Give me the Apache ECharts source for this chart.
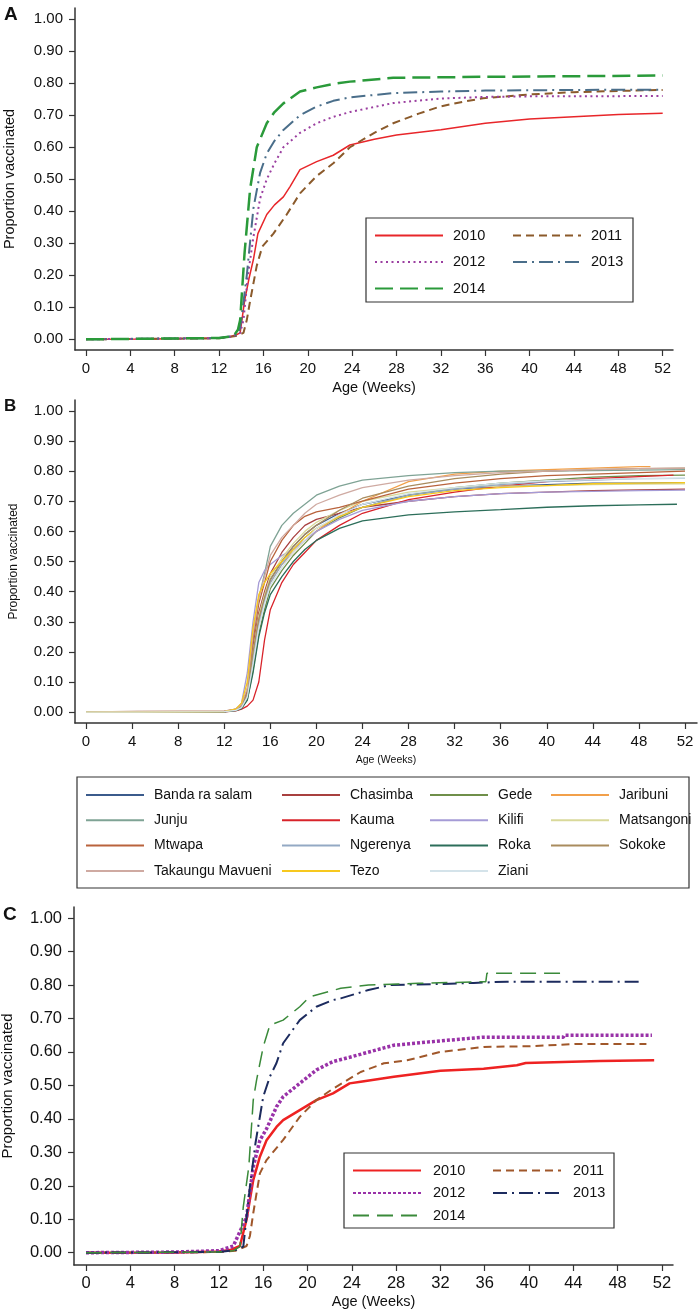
<!DOCTYPE html>
<html>
<head>
<meta charset="utf-8">
<script src="https://cdn.jsdelivr.net/npm/echarts@6/dist/echarts.min.js"></script>
<style>
html,body{margin:0;padding:0;background:#fff;}
#chart{width:700px;height:1313px;}
</style>
</head>
<body>
<div id="chart"></div>
<script>
// ---------------- DATA ----------------
const X_TICKS = [0, 4, 8, 12, 16, 20, 24, 28, 32, 36, 40, 44, 48, 52];
const Y_TICKS = [0, 0.1, 0.2, 0.3, 0.4, 0.5, 0.6, 0.7, 0.8, 0.9, 1.0];
const YEARS = ['2010', '2011', '2012', '2013', '2014'];

// Panel A: proportion vaccinated by age (weeks), per birth-year cohort
const A_2010 = [[0,0],[6,0.001],[12,0.004],[13,0.008],[13.6,0.015],[13.9,0.02],[14.3,0.12],[14.7,0.19],[15.1,0.25],[15.5,0.33],[16.3,0.39],[17,0.42],[17.8,0.445],[18.4,0.477],[19.3,0.53],[20.8,0.555],[22.3,0.575],[23.8,0.607],[26,0.625],[28,0.638],[32,0.655],[36,0.675],[40,0.688],[44,0.695],[48,0.702],[52,0.706]];
const A_2011 = [[0,0],[12,0.003],[13.5,0.01],[14.2,0.02],[14.5,0.06],[14.8,0.12],[15.4,0.23],[15.9,0.29],[16.9,0.33],[18.1,0.39],[19.3,0.456],[20.8,0.51],[22.3,0.55],[23.8,0.60],[26,0.645],[27.7,0.675],[30,0.705],[31.9,0.727],[34,0.742],[35.8,0.753],[40,0.765],[44,0.772],[48,0.776],[52,0.779]];
const A_2012 = [[0,0],[12,0.004],[13.3,0.01],[13.9,0.02],[14.2,0.06],[14.6,0.2],[15.1,0.32],[15.7,0.44],[16.3,0.50],[17,0.55],[17.8,0.60],[19.3,0.645],[20.8,0.675],[22.3,0.695],[23.8,0.71],[27.7,0.738],[31.9,0.752],[35.8,0.757],[40,0.759],[52,0.76]];
const A_2013 = [[0,0],[12,0.004],[13.3,0.01],[13.8,0.02],[14.0,0.06],[14.5,0.2],[15.1,0.41],[15.7,0.52],[16.3,0.58],[17,0.62],[17.8,0.654],[19.3,0.70],[20.8,0.727],[22.3,0.745],[23.8,0.756],[27.7,0.769],[32,0.774],[36,0.777],[44,0.779],[52,0.78]];
const A_2014 = [[0,0],[12,0.004],[13.3,0.01],[13.7,0.03],[13.9,0.06],[14.3,0.27],[14.8,0.47],[15.4,0.60],[16.3,0.675],[17,0.71],[17.8,0.737],[19.3,0.774],[20.8,0.787],[22.3,0.798],[23.8,0.805],[27.7,0.817],[36,0.82],[44,0.822],[52,0.824]];

// Panel B: by location
const B_LOCATIONS = ['Banda ra salam','Chasimba','Gede','Jaribuni','Junju','Kauma','Kilifi','Matsangoni','Mtwapa','Ngerenya','Roka','Sokoke','Takaungu Mavueni','Tezo','Ziani'];
const B_WEEKS = [0,4.5,12,13,13.5,14,14.5,15,15.5,16,17,18,19,20,22,24,28,32,36,40,44,48,52];
const B_LAST_WEEK = [52,52,52,49,52,51,52,52,52,52,51.3,52,52,52,52];
const B_BANDA      = [0,0,0.002,0.008,0.02,0.06,0.2,0.32,0.39,0.44,0.5,0.55,0.59,0.62,0.66,0.69,0.72,0.74,0.75,0.755,0.76,0.76,0.762];
const B_CHASIMBA   = [0,0,0.002,0.008,0.02,0.07,0.22,0.33,0.40,0.46,0.53,0.58,0.62,0.64,0.66,0.68,0.70,0.715,0.725,0.73,0.735,0.738,0.74];
const B_GEDE       = [0,0,0.002,0.006,0.015,0.04,0.14,0.26,0.34,0.41,0.47,0.52,0.56,0.60,0.645,0.68,0.72,0.745,0.76,0.77,0.78,0.785,0.787];
const B_JARIBUNI   = [0,0,0.002,0.008,0.02,0.06,0.2,0.3,0.37,0.43,0.49,0.53,0.57,0.60,0.655,0.70,0.765,0.79,0.80,0.805,0.81,0.815,0.815];
const B_JUNJU      = [0,0,0.002,0.008,0.02,0.07,0.25,0.38,0.46,0.55,0.62,0.66,0.69,0.72,0.75,0.77,0.785,0.795,0.80,0.80,0.802,0.803,0.805];
const B_KAUMA      = [0,0,0.001,0.004,0.01,0.02,0.04,0.1,0.24,0.34,0.43,0.49,0.53,0.57,0.62,0.66,0.705,0.73,0.75,0.765,0.775,0.782,0.787];
const B_KILIFI     = [0,0,0.002,0.01,0.03,0.13,0.3,0.43,0.47,0.49,0.52,0.54,0.57,0.60,0.64,0.67,0.70,0.715,0.725,0.73,0.733,0.735,0.737];
const B_MATSANGONI = [0,0,0.002,0.008,0.02,0.06,0.2,0.32,0.39,0.45,0.51,0.56,0.60,0.63,0.67,0.70,0.73,0.745,0.75,0.752,0.755,0.757,0.758];
const B_MTWAPA     = [0,0.002,0.003,0.01,0.025,0.07,0.24,0.36,0.43,0.5,0.57,0.62,0.65,0.665,0.68,0.70,0.74,0.76,0.775,0.785,0.79,0.795,0.80];
const B_NGERENYA   = [0,0,0.002,0.006,0.015,0.05,0.17,0.29,0.37,0.43,0.49,0.54,0.58,0.61,0.65,0.68,0.72,0.74,0.755,0.765,0.77,0.775,0.776];
const B_ROKA       = [0,0,0.001,0.005,0.012,0.04,0.13,0.25,0.33,0.39,0.45,0.50,0.54,0.57,0.61,0.635,0.655,0.665,0.672,0.68,0.685,0.688,0.69];
const B_SOKOKE     = [0,0,0.002,0.008,0.02,0.06,0.2,0.31,0.38,0.44,0.5,0.55,0.59,0.62,0.67,0.71,0.75,0.775,0.79,0.80,0.805,0.808,0.81];
const B_TAKAUNGU   = [0,0.003,0.003,0.01,0.025,0.08,0.26,0.38,0.45,0.52,0.58,0.62,0.66,0.69,0.72,0.745,0.77,0.785,0.795,0.80,0.805,0.808,0.81];
const B_TEZO       = [0,0,0.002,0.01,0.03,0.1,0.28,0.39,0.43,0.46,0.5,0.54,0.58,0.61,0.65,0.68,0.715,0.735,0.745,0.752,0.758,0.76,0.762];
const B_ZIANI      = [0,0,0.002,0.006,0.015,0.05,0.16,0.28,0.36,0.42,0.48,0.53,0.57,0.61,0.655,0.69,0.725,0.745,0.76,0.768,0.772,0.775,0.777];
const B_VALUES = [B_BANDA,B_CHASIMBA,B_GEDE,B_JARIBUNI,B_JUNJU,B_KAUMA,B_KILIFI,B_MATSANGONI,B_MTWAPA,B_NGERENYA,B_ROKA,B_SOKOKE,B_TAKAUNGU,B_TEZO,B_ZIANI];

// Panel C
const C_2010 = [[0,0],[8,0.001],[12,0.004],[13,0.008],[13.9,0.02],[14.5,0.1],[15.1,0.217],[15.7,0.287],[16.3,0.336],[17.2,0.376],[17.8,0.396],[19.3,0.426],[20.8,0.456],[22.3,0.476],[23.8,0.506],[24.8,0.511],[27.8,0.526],[32,0.544],[35.9,0.55],[38.9,0.56],[39.7,0.567],[46.4,0.573],[51.3,0.575]];
const C_2011 = [[0,0],[12,0.002],[13.5,0.006],[14.5,0.02],[14.8,0.05],[15.1,0.118],[15.7,0.237],[16.3,0.277],[17.8,0.337],[19.3,0.406],[20.8,0.456],[22.3,0.49],[23.8,0.52],[24.8,0.54],[26.9,0.566],[29,0.575],[32,0.60],[35.9,0.615],[40.1,0.617],[44.3,0.624],[50.6,0.624]];
const C_2012 = [[0,0],[8,0.002],[12,0.006],[13.3,0.02],[14.5,0.107],[15.1,0.257],[15.7,0.336],[16.3,0.37],[17.2,0.436],[17.8,0.466],[19.3,0.506],[20.8,0.546],[22.3,0.571],[23.8,0.584],[26.9,0.612],[27.8,0.62],[32,0.633],[35.9,0.644],[43.1,0.644],[43.2,0.65],[51.1,0.65]];
const C_2013 = [[0,0],[12,0.002],[13.5,0.008],[14.2,0.018],[14.8,0.197],[15.3,0.327],[16.0,0.466],[16.6,0.526],[17.2,0.567],[17.8,0.626],[19.3,0.695],[20.8,0.735],[22.3,0.755],[23,0.76],[25.5,0.785],[27.5,0.80],[32,0.803],[35,0.806],[38,0.81],[50,0.81]];
const C_2014 = [[0,0],[12,0.002],[13.3,0.006],[13.9,0.018],[14.2,0.137],[14.7,0.257],[15.1,0.456],[15.4,0.516],[16.0,0.615],[16.6,0.68],[17.8,0.695],[19.3,0.735],[20.2,0.765],[23,0.79],[25.5,0.80],[30,0.805],[36.1,0.81],[36.2,0.835],[42.8,0.835]];

// ---------------- STYLES ----------------
const FONT = "'Liberation Sans', Arial, Helvetica, sans-serif";
const A_STYLE = [
  {color:'#e8262a', width:1.5, type:'solid'},
  {color:'#8b5a2b', width:2, type:[8,5]},
  {color:'#9b3fa0', width:2, type:[2,3.5]},
  {color:'#4a6e8a', width:2, type:[14,5,2,5]},
  {color:'#2a9a3a', width:2.5, type:[18,7]}
];
const C_STYLE = [
  {color:'#ee2222', width:2.5, type:'solid'},
  {color:'#a0572a', width:2, type:[8,5]},
  {color:'#9932a8', width:3.5, type:[3,2]},
  {color:'#1c2b5e', width:2, type:[14,5,2,5]},
  {color:'#3a8a3a', width:1.5, type:[16,8]}
];
const B_COLORS = ['#3b5b8c','#a8403f','#6f8f4a','#f2a04a','#7fa395','#d8232a','#a59bd6','#d9d99a','#b9633c','#93a9c4','#2c6e5a','#a98c5e','#cfaaa2','#f7c81e','#d4e3ea'];

const A_DATA = [A_2010, A_2011, A_2012, A_2013, A_2014];
const C_DATA = [C_2010, C_2011, C_2012, C_2013, C_2014];

// ---------------- BUILD ----------------
const AXIS_COLOR = '#333';
function xAxis(gridIndex, min, max, fontSize, nameSize, nameGap, margin) {
  return {
    type:'value', gridIndex, min, max,
    name:'Age (Weeks)', nameLocation:'middle', nameGap,
    nameTextStyle:{fontSize:nameSize, color:'#111', fontFamily:FONT},
    axisLine:{show:true, onZero:false, lineStyle:{color:AXIS_COLOR, width:1.5}},
    axisTick:{show:true, length:6, customValues:X_TICKS, lineStyle:{color:AXIS_COLOR, width:1.2}},
    axisLabel:{customValues:X_TICKS, fontSize, color:'#111', fontFamily:FONT, margin},
    splitLine:{show:false}
  };
}
function yAxis(gridIndex, min, max, fontSize, nameSize, nameGap) {
  return {
    type:'value', gridIndex, min, max,
    name:'Proportion vaccinated', nameLocation:'middle', nameGap,
    nameTextStyle:{fontSize:nameSize, color:'#111', fontFamily:FONT},
    axisLine:{show:true, onZero:false, lineStyle:{color:AXIS_COLOR, width:1.5}},
    axisTick:{show:true, length:6, customValues:Y_TICKS, lineStyle:{color:AXIS_COLOR, width:1.2}},
    axisLabel:{customValues:Y_TICKS, fontSize, color:'#111', fontFamily:FONT, margin:12,
      formatter:v => Number(v).toFixed(2)},
    splitLine:{show:false}
  };
}
function lineSeries(name, data, idx, st) {
  return {
    type:'line', name, data, xAxisIndex:idx, yAxisIndex:idx,
    symbol:'none', showSymbol:false, silent:true, animation:false,
    lineStyle:{color:st.color, width:st.width, type:st.type},
    itemStyle:{color:st.color}
  };
}
function legendCol(names, left, top, gap, itemWidth, fontSize, textPad, fmt) {
  return {
    data:names, left, top, orient:'vertical', padding:0, itemGap:gap,
    itemWidth, itemHeight:14, selectedMode:false,
    itemStyle:{opacity:0},
    textStyle:{fontSize, color:'#111', fontFamily:FONT, lineHeight:14, padding:[0,0,0,textPad]},
    formatter: fmt || (n => n)
  };
}

const series = [];
YEARS.forEach((y,i) => series.push(lineSeries(y, A_DATA[i], 0, A_STYLE[i])));
B_LOCATIONS.forEach((loc,i) => {
  const pts = B_WEEKS.map((w,j) => [j === B_WEEKS.length-1 ? B_LAST_WEEK[i] : w, B_VALUES[i][j]]);
  series.push(lineSeries(loc, pts, 1, {color:B_COLORS[i], width:1.3, type:'solid'}));
});
YEARS.forEach((y,i) => series.push(lineSeries('C ' + y, C_DATA[i], 2, C_STYLE[i])));

const stripC = n => n.replace(/^C /, '');

const option = {
  animation:false,
  backgroundColor:'#fff',
  textStyle:{fontFamily:FONT},
  title:[
    {text:'A', left:4, top:5, padding:0, textStyle:{fontSize:19, fontWeight:'bold', color:'#111', fontFamily:FONT}},
    {text:'B', left:4, top:398, padding:0, textStyle:{fontSize:17, fontWeight:'bold', color:'#111', fontFamily:FONT}},
    {text:'C', left:3, top:905, padding:0, textStyle:{fontSize:19, fontWeight:'bold', color:'#111', fontFamily:FONT}}
  ],
  grid:[
    {left:75, right:27, top:8, height:342, outerBoundsMode:'none', containLabel:false},
    {left:75, right:3, top:400, height:323, outerBoundsMode:'none', containLabel:false},
    {left:74, right:27, top:907, height:358, outerBoundsMode:'none', containLabel:false}
  ],
  xAxis:[
    xAxis(0, -0.99, 52.93, 15, 14.5, 30, 11),
    xAxis(1, -0.955, 53.04, 15, 10.5, 32, 11),
    xAxis(2, -1.084, 53.0, 16.5, 14.5, 29, 10)
  ],
  yAxis:[
    yAxis(0, -0.0334, 1.035, 15, 14.5, 58),
    yAxis(1, -0.036, 1.036, 15, 12, 55),
    yAxis(2, -0.0367, 1.033, 16.5, 15, 59)
  ],
  legend:[
    legendCol(['2010','2012','2014'], 374, 228, 11.5, 68, 14.5, 5),
    legendCol(['2011','2013'], 512, 228, 11.5, 68, 14.5, 5),
    legendCol(['Banda ra salam','Junju','Mtwapa','Takaungu Mavueni'], 85, 788, 11.3, 58, 14, 5),
    legendCol(['Chasimba','Kauma','Ngerenya','Tezo'], 281, 788, 11.3, 58, 14, 5),
    legendCol(['Gede','Kilifi','Roka','Ziani'], 429, 788, 11.3, 58, 14, 5),
    legendCol(['Jaribuni','Matsangoni','Sokoke'], 550, 788, 11.3, 58, 14, 5),
    legendCol(['C 2010','C 2012','C 2014'], 352, 1163, 7.5, 68, 14.5, 7, stripC),
    legendCol(['C 2011','C 2013'], 492, 1163, 7.5, 68, 14.5, 7, stripC)
  ],
  graphic:[
    {type:'rect', shape:{x:366, y:218, width:267, height:84}, style:{fill:'none', stroke:'#333', lineWidth:1.2}, silent:true},
    {type:'rect', shape:{x:77, y:777, width:612, height:111}, style:{fill:'none', stroke:'#333', lineWidth:1.2}, silent:true},
    {type:'rect', shape:{x:344, y:1153, width:270, height:75}, style:{fill:'none', stroke:'#333', lineWidth:1.2}, silent:true}
  ],
  series
};

const chart = echarts.init(document.getElementById('chart'), null, {renderer:'canvas', width:700, height:1313});
chart.setOption(option);
</script>
</body>
</html>
